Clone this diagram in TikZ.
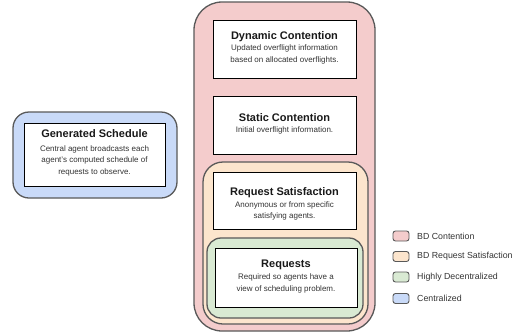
\documentclass[tikz,border=0pt]{standalone}
\usepackage{fontspec}
\setmainfont{Liberation Sans}
\definecolor{cpink}{HTML}{F4CCCC}
\definecolor{corange}{HTML}{FCE5CD}
\definecolor{cgreen}{HTML}{D9EAD3}
\definecolor{cblue}{HTML}{C9DAF8}
\definecolor{cborder}{HTML}{595959}
\tikzset{
  grp/.style={draw=cborder, line width=1.3pt, rectangle, inner sep=0pt},
  cardbox/.style={draw=black, line width=0.8pt, fill=white, rectangle, inner sep=0pt},
  ttl/.style={inner sep=0pt, font=\fontsize{11}{13}\selectfont\bfseries, text=black!90},
  body/.style={inner sep=0pt, align=center, font=\fontsize{8}{11.8}\selectfont, text=black!80},
  swatch/.style={draw=cborder, line width=0.9pt, rectangle, rounded corners=2.5pt, minimum width=16pt, minimum height=10pt, inner sep=0pt},
  legtext/.style={anchor=west, inner sep=0pt, font=\fontsize{8.8}{10}\selectfont, text=black!80},
}
\begin{document}
\begin{tikzpicture}[x=1pt,y=-1pt]
\useasboundingbox (0,0) rectangle (530,335);
% groups
\node[grp, fill=cpink, rounded corners=28pt, minimum width=181pt, minimum height=329pt] (pink) at (284.5,166.5) {};
\node[grp, fill=corange, rounded corners=20pt, minimum width=165pt, minimum height=162pt] (orange) at (285.5,243) {};
\node[grp, fill=cgreen, rounded corners=14pt, minimum width=156pt, minimum height=80pt] (green) at (285,278) {};
\node[grp, fill=cblue, rounded corners=16pt, minimum width=164pt, minimum height=86pt] (blue) at (95,155) {};
% cards
\node[cardbox, minimum width=143pt, minimum height=58pt] (dyn) at (284.5,49) {};
\node[ttl] (dynt) at (284.5,36.5) {Dynamic Contention};
\node[body, anchor=north] (dynb) at (284.5,44.5) {Updated overflight information\\based on allocated overflights.};

\node[cardbox, minimum width=143pt, minimum height=58pt] (stat) at (284.5,125) {};
\node[ttl] (statt) at (284.5,118) {Static Contention};
\node[body, anchor=north] (statb) at (284.5,126) {Initial overflight information.};

\node[cardbox, minimum width=143pt, minimum height=57pt] (rsat) at (284.5,200.5) {};
\node[ttl] (rsatt) at (284.5,193) {Request Satisfaction};
\node[body, anchor=north] (rsatb) at (284.5,201) {Anonymous or from specific\\satisfying agents.};

\node[cardbox, minimum width=142pt, minimum height=59pt] (req) at (286,277.5) {};
\node[ttl] (reqt) at (286,264.5) {Requests};
\node[body, anchor=north] (reqb) at (286,273.5) {Required so agents have a\\view of scheduling problem.};

\node[cardbox, minimum width=141pt, minimum height=63pt] (gen) at (94.5,154.5) {};
\node[ttl] (gent) at (94.5,134) {Generated Schedule};
\node[body, anchor=north] (genb) at (94.5,145) {Central agent broadcasts each\\agent's computed schedule of\\requests to observe.};
% legend
\node[swatch, fill=cpink] (s1) at (401,236) {};
\node[swatch, fill=corange] (s2) at (401,256.5) {};
\node[swatch, fill=cgreen] (s3) at (401,277) {};
\node[swatch, fill=cblue] (s4) at (401,298.5) {};
\node[legtext] (l1) at (417,236) {BD Contention};
\node[legtext] (l2) at (417,256.5) {BD Request Satisfaction};
\node[legtext] (l3) at (417,277) {Highly Decentralized};
\node[legtext] (l4) at (417,298.5) {Centralized};
\end{tikzpicture}
\end{document}
